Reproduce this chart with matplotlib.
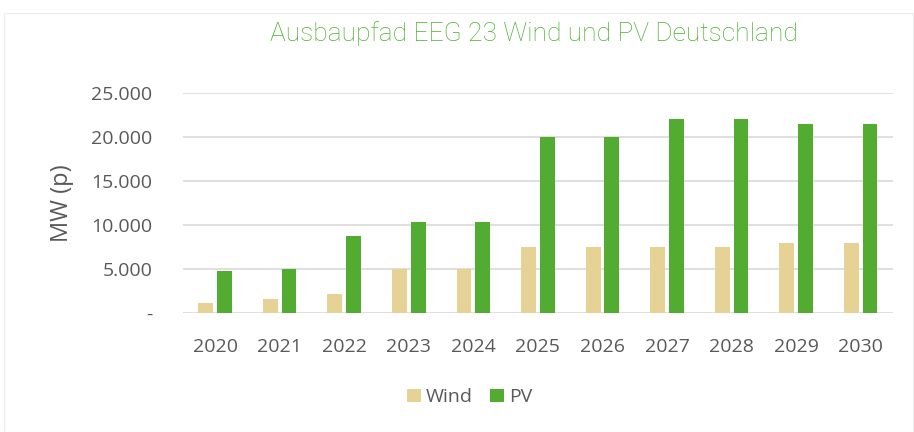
import matplotlib
matplotlib.use("Agg")
import matplotlib.pyplot as plt
import numpy as np
from matplotlib.patches import Rectangle

years = ["2020", "2021", "2022", "2023", "2024", "2025", "2026", "2027", "2028", "2029", "2030"]
wind = [1100, 1600, 2100, 5000, 5000, 7500, 7500, 7500, 7500, 8000, 8000]
pv = [4800, 5000, 8700, 10300, 10300, 20000, 20000, 22000, 22000, 21500, 21500]
yticks = [0, 5000, 10000, 15000, 20000, 25000]
ytick_labels = ["-", "5.000", "10.000", "15.000", "20.000", "25.000"]

plt.rcParams['font.family'] = ['Open Sans', 'DejaVu Sans']

fig = plt.figure(figsize=(9.14, 4.32), dpi=100)
fig.patches.append(Rectangle((0.004, 0.0), 0.995, 0.97, transform=fig.transFigure,
                             fill=False, edgecolor='#ececec', linewidth=0.8))
ax = fig.add_axes([0.2, 0.2755, 0.777, 0.5095])

x = np.arange(len(years))
w = 0.23
g = 0.03
ax.bar(x - w/2 - g, wind, width=w, color='#E6D294', label='Wind', zorder=3)
ax.bar(x + w/2 + g, pv, width=w, color='#53AC32', label='PV', zorder=3)

ax.set_ylim(0, 25000)
ax.set_xlim(-0.5, len(years) - 0.5)
ax.set_yticks(yticks)
ax.set_yticklabels(ytick_labels)
ax.set_xticks(x)
ax.set_xticklabels(years)
ax.tick_params(axis='both', length=0, labelsize=14, colors='#595959')
ax.tick_params(axis='y', pad=22)
ax.tick_params(axis='x', pad=18)
ax.grid(axis='y', color='#d9d9d9', linewidth=1.2, zorder=0)
for s in ax.spines.values():
    s.set_visible(False)
ax.set_ylabel('MW (p)', fontsize=17, color='#595959', labelpad=12)

fig.text(0.584, 0.923, 'Ausbaupfad EEG 23 Wind und PV Deutschland', ha='center', va='center',
         fontsize=19, color='#4FB030', family=['Roboto', 'DejaVu Sans'], fontweight='light')

fig.legend(loc='center', bbox_to_anchor=(0.514, 0.08), ncol=2, frameon=False, fontsize=14,
           handlelength=0.72, handleheight=0.7, handletextpad=0.26, columnspacing=0.9,
           labelcolor='#595959')

fig.savefig('out.png', dpi=100)
